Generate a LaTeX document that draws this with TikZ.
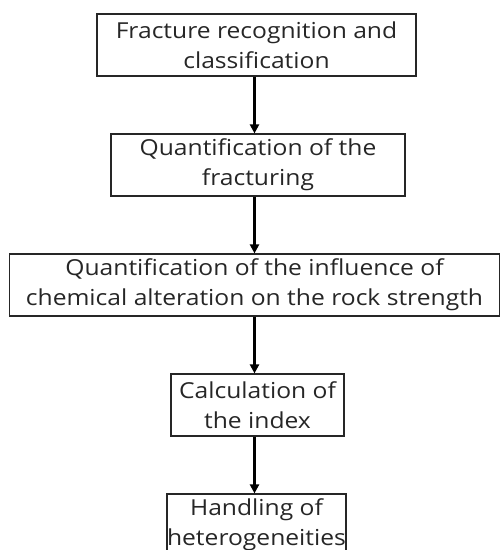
\documentclass[tikz,border=0pt]{standalone}
\usepackage{fontspec}
\setmainfont[FakeStretch=1.12]{Open Sans}
\usetikzlibrary{arrows.meta,positioning,calc}

\begin{document}
\begin{tikzpicture}[
  x=1pt, y=1pt,
  every node/.style={font=\fontsize{22}{30}\selectfont},
  stepbox/.style={draw=black!85, line width=1.2pt, align=center,
                  inner sep=0pt, minimum height=62pt, text=black!85},
  flowarrow/.style={line width=2.5pt, -{Triangle[width=9pt,length=9pt]}},
]
\useasboundingbox (0,0) rectangle (501,550);
\clip (0,0) rectangle (501,550);

%% Steps, top to bottom
\node[stepbox, minimum width=319pt] (recog) at (256.5,505)
  {Fracture recognition and\\classification};
\node[stepbox, minimum width=294pt] (fract) at (258,385)
  {Quantification of the\\fracturing};
\node[stepbox, minimum width=490pt] (chem) at (254.5,265)
  {Quantification of the influence of\\chemical alteration on the rock strength};
\node[stepbox, minimum width=173pt] (index) at (257.5,145)
  {Calculation of\\the index};
\node[stepbox, minimum width=149pt] (hetero) at (256.5,25)
  {Handling of\\heterogeneities};

%% Arrows (all on one vertical line)
\draw[flowarrow] (recog.south -| chem.center) -- (fract.north -| chem.center);
\draw[flowarrow] (fract.south -| chem.center) -- (chem.north);
\draw[flowarrow] (chem.south) -- (index.north -| chem.center);
\draw[flowarrow] (index.south -| chem.center) -- (hetero.north -| chem.center);

\end{tikzpicture}
\end{document}
